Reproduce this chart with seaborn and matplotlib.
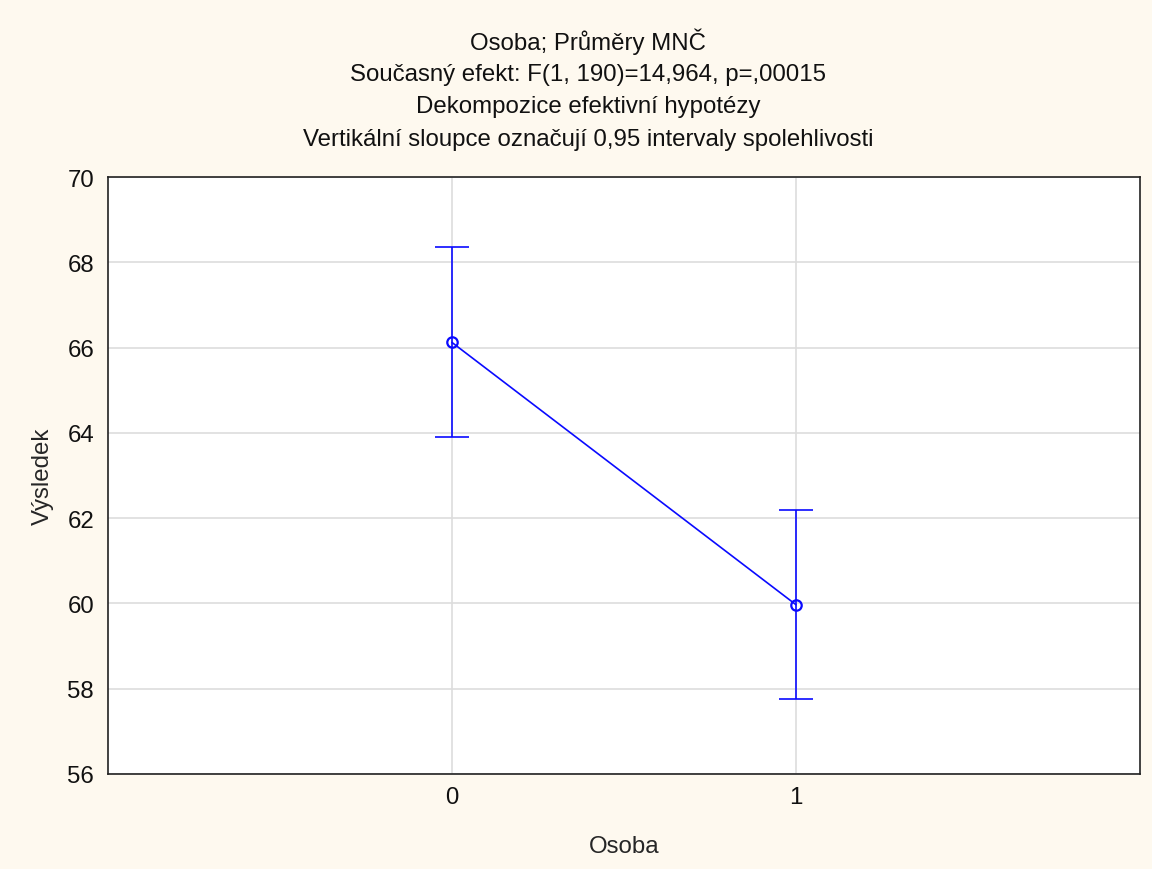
import numpy as np
import pandas as pd
import matplotlib
matplotlib.use("Agg")
import matplotlib.pyplot as plt
import seaborn as sns

# hodnoty
osoba = [0, 1]
prumer = [66.12, 59.97]
ci_dolni = [63.90, 57.77]
ci_horni = [68.36, 62.20]
y_ticks = [56, 58, 60, 62, 64, 66, 68, 70]

radky_titulku = ["Osoba; Průměry MNČ",
                 "Současný efekt: F(1, 190)=14,964, p=,00015",
                 "Dekompozice efektivní hypotézy",
                 "Vertikální sloupce označují 0,95 intervaly spolehlivosti"]

sns.set_style("white")
plt.rcParams['font.family'] = ['Liberation Sans', 'DejaVu Sans']
fs = 17.3

df = pd.DataFrame({'Osoba': osoba, 'Výsledek': prumer})

fig = plt.figure(figsize=(11.52, 8.7), dpi=100, facecolor='#FEF9EF')
ax = fig.add_axes([0.09375, 0.1092, 0.8958, 0.6862])
ax.set_facecolor('white')

modra = '#0A0AFF'
sns.lineplot(data=df, x='Osoba', y='Výsledek', ax=ax, color=modra, lw=1.2,
             marker='o', markersize=7.5, markerfacecolor='none',
             markeredgecolor=modra, markeredgewidth=1.6, zorder=4)
chyba = [np.array(prumer) - np.array(ci_dolni), np.array(ci_horni) - np.array(prumer)]
ax.errorbar(osoba, prumer, yerr=chyba, fmt='none', ecolor=modra,
            elinewidth=1.2, capsize=12.5, capthick=1.2, zorder=3)

ax.set_xlim(-1, 2)
ax.set_ylim(56, 70)
ax.set_xticks(osoba)
ax.set_yticks(y_ticks)
ax.grid(True, color='#DDDDDD', lw=1.2, zorder=0)
ax.set_axisbelow(True)
for s in ax.spines.values():
    s.set_color('#222222')
    s.set_linewidth(1.2)
ax.tick_params(direction='in', length=4, width=1.2, colors='#222222',
               labelsize=fs, labelcolor='#111111')
ax.tick_params(axis='x', pad=9)
ax.tick_params(axis='y', pad=10)

ax.set_xlabel('Osoba', fontsize=fs, labelpad=19)
ax.set_ylabel('Výsledek', fontsize=fs, labelpad=10)

for i, radek in enumerate(radky_titulku):
    fig.text(588 / 1152, 1 - (42 + i * 32.7) / 870, radek, fontsize=fs,
             ha='center', va='center', color='#111111')

plt.savefig('out.png', dpi=100, facecolor=fig.get_facecolor())
